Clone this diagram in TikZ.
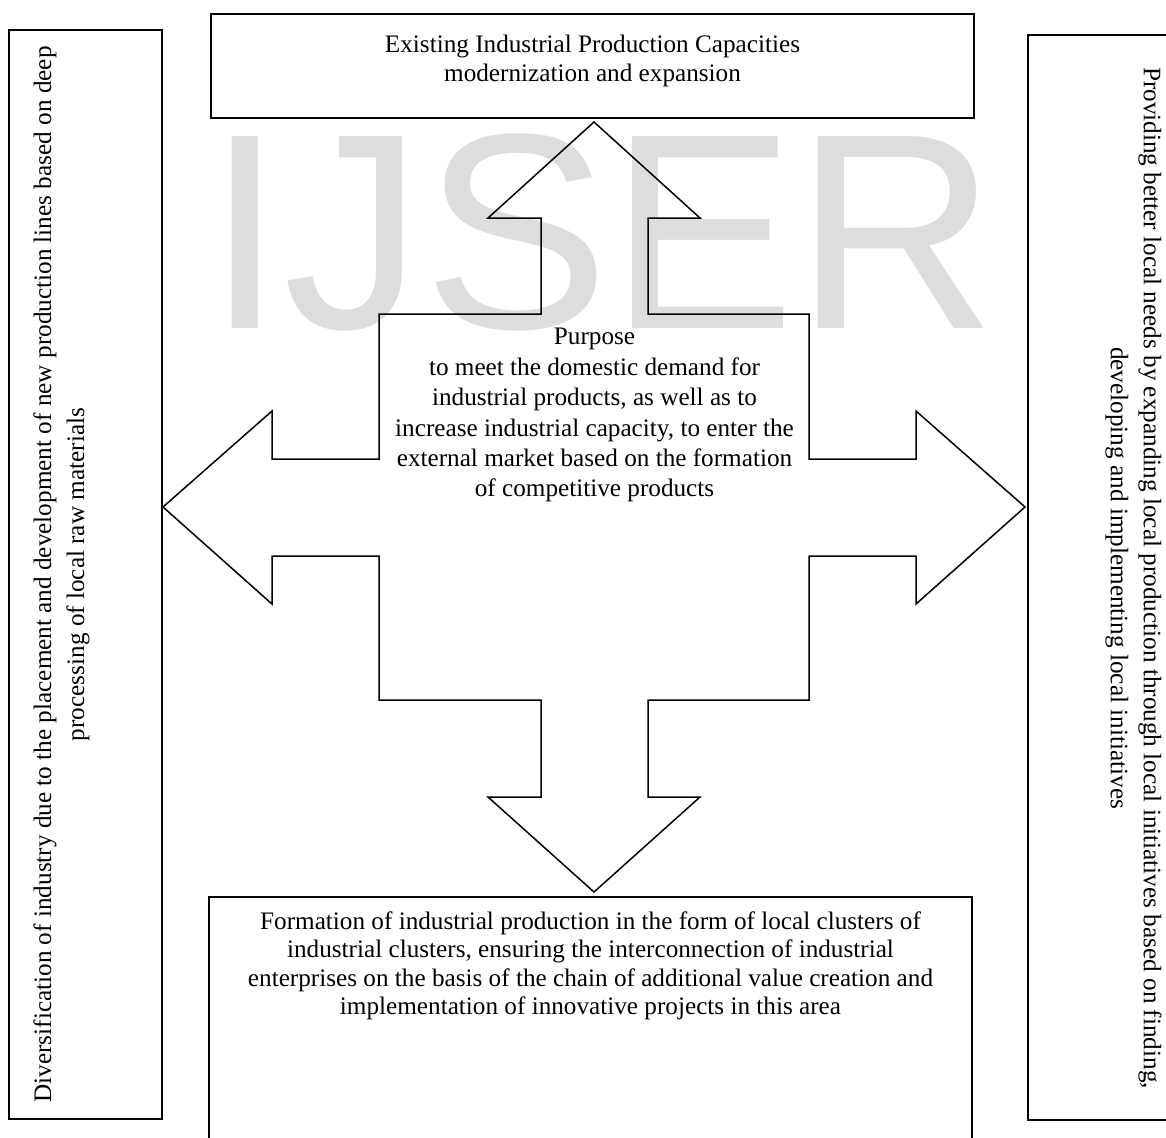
\documentclass[tikz,border=0pt]{standalone}
\usepackage{fontspec}
\setmainfont{Liberation Serif}
\newfontfamily\marksans{Liberation Sans}
\usepackage{xcolor}
\usepackage{tikz}
\definecolor{markgray}{RGB}{221,221,221}

\begin{document}
\begin{tikzpicture}[x=0.5pt,y=-0.5pt,
  panel/.style={draw=black, line width=1.1pt},
  bigarrow/.style={draw=black, line width=0.75pt},
  body/.style={inner sep=0pt, align=center, font=\fontsize{12.6}{#1}\selectfont},
  body/.default=14.3]
\useasboundingbox (0,0) rectangle (1166,1137);

\node[font=\marksans\fontsize{139.5}{140}\selectfont, text=markgray, anchor=base west, inner sep=0pt] (mark) at (206,328) {IJSER};

\draw[bigarrow] (594,122) -- (700,218) -- (648,218) -- (648,314) -- (809,314) -- (809,459)
  -- (916,459) -- (916,411) -- (1025,507) -- (916,604) -- (916,556) -- (809,556)
  -- (809,700) -- (648,700) -- (648,797) -- (700,797) -- (594,892) -- (488,797)
  -- (541,797) -- (541,700) -- (379,700) -- (379,556) -- (272,556) -- (272,604)
  -- (163,507) -- (272,411) -- (272,459) -- (379,459) -- (379,314) -- (541,314)
  -- (541,218) -- (488,218) -- cycle;

\draw[panel] (211,14) rectangle (974,118);
\draw[panel] (9,30) rectangle (162,1119);
\draw[panel] (1028,35) rectangle (1190,1120);
\draw[panel] (209,897) rectangle (972,1160);

\node[body, anchor=north] (existing) at (592.5,35) {Existing Industrial Production Capacities\\modernization and expansion};
\node[body=15.2, anchor=north] (purpose) at (594.5,328) {Purpose\\to meet the domestic demand for\\industrial products, as well as to\\increase industrial capacity, to enter the\\external market based on the formation\\of competitive products};
\node[body, anchor=north] (clusters) at (590.5,911) {Formation of industrial production in the form of local clusters of\\industrial clusters, ensuring the interconnection of industrial\\enterprises on the basis of the chain of additional value creation and\\implementation of innovative projects in this area};
\node[body=16.5, rotate=90, anchor=north] (diversify) at (33,574.5) {Diversification of industry due to the placement and development of new production lines based on deep\\processing of local raw materials};
\node[body=16.5, rotate=-90, anchor=north] (localneeds) at (1162,578) {Providing better local needs by expanding local production through local initiatives based on finding,\\developing and implementing local initiatives};
\end{tikzpicture}
\end{document}
